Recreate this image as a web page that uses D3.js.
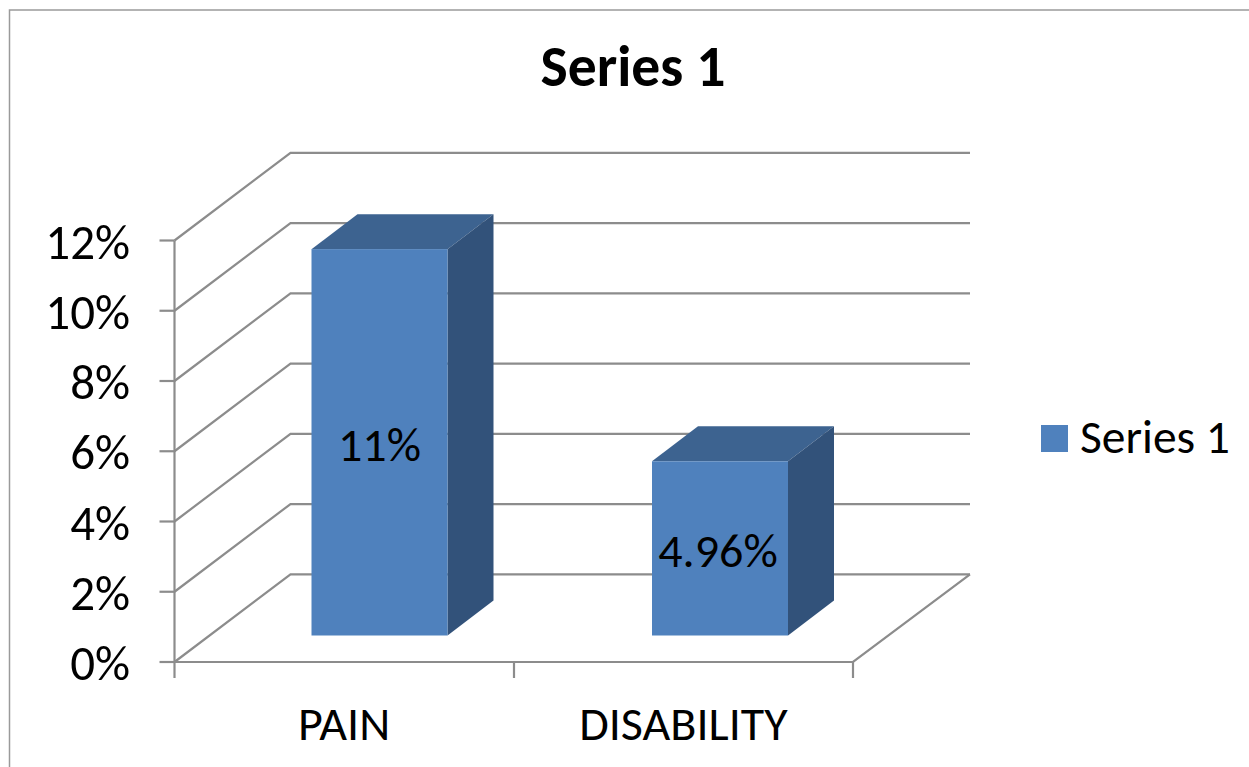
<!DOCTYPE html>
<html>
<head>
<meta charset="utf-8">
<script src="https://cdn.jsdelivr.net/npm/d3@7"></script>
<style>
  html, body { margin: 0; padding: 0; background: #fff; }
  svg { display: block; }
  text { font-family: Carlito, Calibri, "Open Sans", "Noto Sans", sans-serif; fill: #000; }
</style>
</head>
<body>
<svg id="chart" width="1249" height="767"></svg>
<script>
const categories = ['PAIN', 'DISABILITY']
const values = [11, 4.96]
const valueLabels = ['11%', '4.96%']
const yTicks = [0, 2, 4, 6, 8, 10, 12]
const seriesName = 'Series 1'

const svg = d3.select('#chart')

// floor front edge + depth offset of the 3d box
const depth = {x: 116, y: -87.7}
const y = d3.scaleLinear().domain([0, 12]).range([662, 240.5])
const x = d3.scaleBand().domain(categories).range([174.5, 853])

const gridColor = '#8c8c8c'
const frontColor = '#4f81bd', topColor = '#3d6390', sideColor = '#32527a'

// outer frame
svg.append('path')
    .attr('d', 'M9.5,767V10H1249')
    .attr('fill', 'none')
    .attr('stroke', '#9a9a9a')
    .attr('stroke-width', 1.5)

svg.append('text')
    .attr('x', 633).attr('y', 86)
    .attr('text-anchor', 'middle')
    .style('font-size', '57.6px').style('font-weight', 'bold')
    .text(seriesName)

// walls
const walls = svg.append('g')
    .attr('fill', 'none')
    .attr('stroke', gridColor)
    .attr('stroke-width', 2.2)

walls.selectAll('path.grid')
    .data(yTicks)
    .join('path')
    .attr('class', 'grid')
    .attr('d', d => `M174.5,${y(d)}L${174.5 + depth.x},${y(d) + depth.y}H970`)

walls.append('path')
    .attr('d', `M174.5,${y(0)}V${y(12)}`)
walls.append('path')
    .attr('d', `M174.5,${y(0)}H853L970,${y(0) + depth.y}`)

// axis ticks
walls.selectAll('path.ytick')
    .data(yTicks)
    .join('path')
    .attr('class', 'ytick')
    .attr('d', d => `M174.5,${y(d)}h-15`)

walls.selectAll('path.xtick')
    .data([174.5, 514, 853])
    .join('path')
    .attr('class', 'xtick')
    .attr('d', d => `M${d},${y(0)}v16`)

svg.selectAll('text.ylabel')
    .data(yTicks)
    .join('text')
    .attr('class', 'ylabel')
    .attr('x', 130).attr('y', d => y(d) + 18)
    .attr('text-anchor', 'end')
    .style('font-size', '49px')
    .text(d => d + '%')

svg.selectAll('text.xlabel')
    .data(categories)
    .join('text')
    .attr('class', 'xlabel')
    .attr('x', d => x(d) + x.bandwidth() / 2)
    .attr('y', 740)
    .attr('text-anchor', 'middle')
    .style('font-size', '48px')
    .text(d => d)

// bars
const barW = 136, barDx = 46, barDy = -35, barBase = 635.5
const barLeft = {PAIN: 311.5, DISABILITY: 652}
const barY = d3.scaleLinear().domain([0, 12]).range([barBase, barBase - 421.5])

const bars = svg.selectAll('g.bar')
    .data(categories)
    .join('g')
    .attr('class', 'bar')

bars.each(function(d, i) {
    const g = d3.select(this)
    const l = barLeft[d], r = l + barW, t = barY(values[i])
    g.append('path')
        .attr('fill', topColor)
        .attr('d', `M${l},${t}L${l + barDx},${t + barDy}H${r + barDx}L${r},${t}Z`)
    g.append('path')
        .attr('fill', sideColor)
        .attr('d', `M${r},${t}L${r + barDx},${t + barDy}V${barBase + barDy}L${r},${barBase}Z`)
    g.append('rect')
        .attr('x', l).attr('y', t)
        .attr('width', barW).attr('height', barBase - t)
        .attr('fill', frontColor)
    g.append('text')
        .attr('x', i == 1 ? l + 66 : l + 68)
        .attr('y', i == 1 ? 567 : 461)
        .attr('text-anchor', 'middle')
        .style('font-size', '48px')
        .text(valueLabels[i])
})

// legend
svg.append('rect')
    .attr('x', 1041).attr('y', 425)
    .attr('width', 27).attr('height', 27)
    .attr('fill', frontColor)
svg.append('text')
    .attr('x', 1080).attr('y', 453)
    .style('font-size', '47.5px')
    .text(seriesName)
</script>
</body>
</html>
